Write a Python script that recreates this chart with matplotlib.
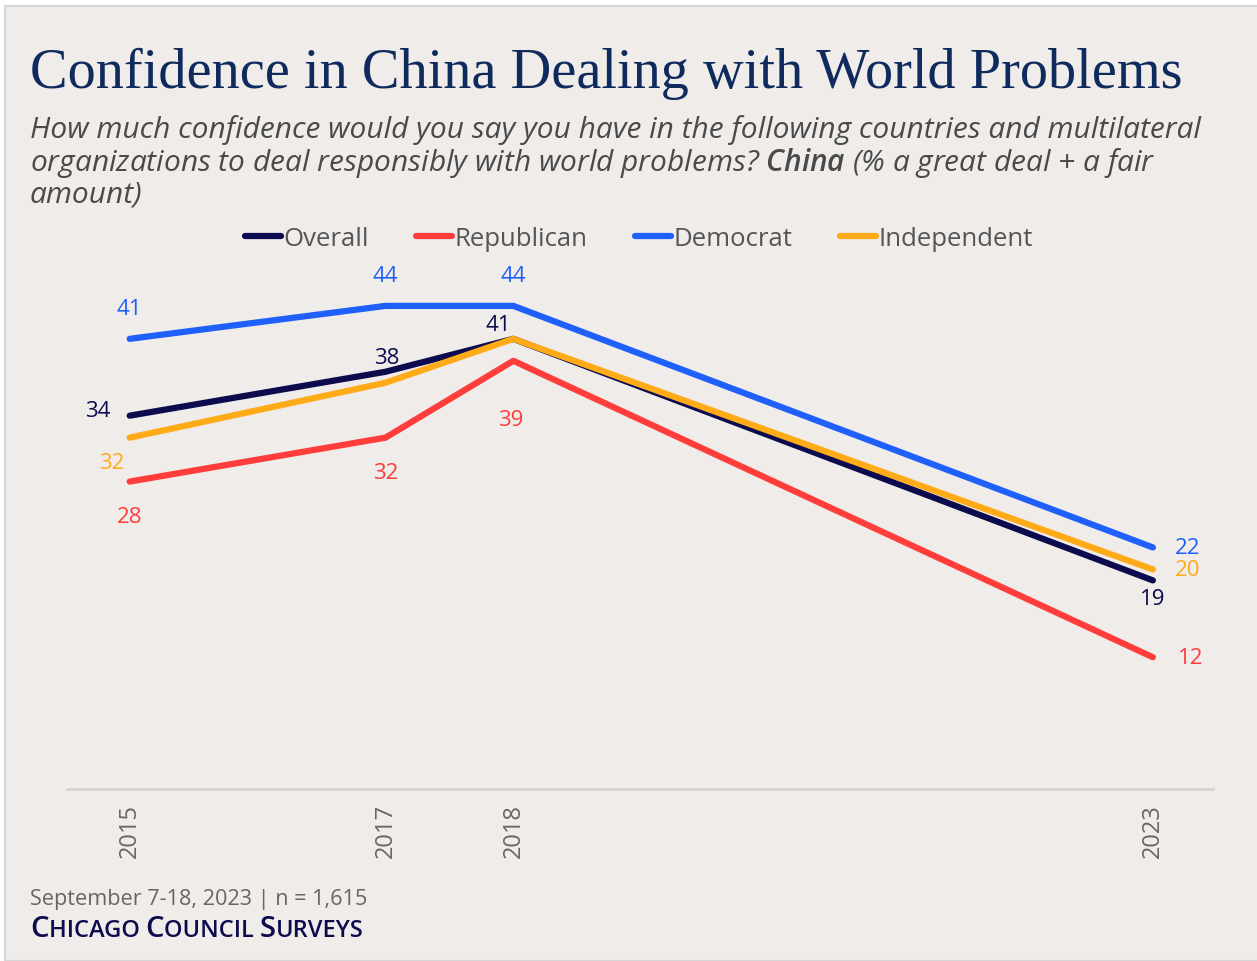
import matplotlib
matplotlib.use("Agg")
import matplotlib.pyplot as plt
from matplotlib.patches import Rectangle

# data
years = [2015, 2017, 2018, 2023]
overall = [34, 38, 41, 19]
republican = [28, 32, 39, 12]
democrat = [41, 44, 44, 22]
independent = [32, 37, 41, 20]

series_names = ["Overall", "Republican", "Democrat", "Independent"]
colors = ["#0b0b4d", "#ff3d3a", "#1f5ffa", "#ffaa17"]

W, H = 1257, 962
bg = "#efecea"
plt.rcParams["font.family"] = ["Open Sans", "DejaVu Sans"]
plt.rcParams["mathtext.fontset"] = "custom"
plt.rcParams["mathtext.bf"] = "Open Sans:italic:semibold"

fig = plt.figure(figsize=(W / 100, H / 100), dpi=100, facecolor="white")
fig.patches.append(Rectangle((5 / W, 0), 1.0, 1 - 7 / H, transform=fig.transFigure,
                             facecolor=bg, edgecolor="#d6d6d6", linewidth=1.5, zorder=-5))

ax = fig.add_axes([67 / W, 1 - 790 / H, (1213 - 67) / W, (790 - 252) / H])
ax.patch.set_alpha(0)

for vals, name, c in zip([overall, republican, democrat, independent], series_names, colors):
    ax.plot(years, vals, color=c, lw=4.5, solid_capstyle="round",
            solid_joinstyle="round", label=name)

ax.set_xlim(2014.51, 2023.47)
ax.set_ylim(0, 49)

lab_size = 16
def lab(vals, i, c, dx, dy, ha="center"):
    ax.annotate(str(vals[i]), (years[i], vals[i]), xytext=(dx, dy),
                textcoords="offset points", ha=ha, va="center",
                color=c, fontsize=lab_size)

# 2015
lab(overall, 0, colors[0], -23, 4)
lab(democrat, 0, colors[2], 0, 22)
lab(independent, 0, colors[3], -13, -18)
lab(republican, 0, colors[1], 0, -25)
# 2017
lab(overall, 1, colors[0], 1, 10)
lab(democrat, 1, colors[2], 0, 22)
lab(republican, 1, colors[1], 0, -25)
# 2018
lab(overall, 2, colors[0], -11, 10)
lab(democrat, 2, colors[2], 0, 22)
lab(republican, 2, colors[1], -2, -42)
# 2023
lab(democrat, 3, colors[2], 16, 0, "left")
lab(independent, 3, colors[3], 16, 0, "left")
lab(overall, 3, colors[0], 0, -13)
lab(republican, 3, colors[1], 18, 0, "left")

for s in ["top", "right", "left"]:
    ax.spines[s].set_visible(False)
ax.spines["bottom"].set_color("#d4d4d4")
ax.spines["bottom"].set_linewidth(2)
ax.set_yticks([])
ax.set_xticks(years)
ax.set_xticklabels([str(y) for y in years], rotation=90, color="#666666", fontsize=17)
ax.tick_params(axis="x", length=0, pad=10)

leg = ax.legend(loc="center", bbox_to_anchor=(639 / W, 1 - 239 / H), bbox_transform=fig.transFigure,
                ncol=4, frameon=False, fontsize=18.5, handlelength=1.4, handletextpad=0.1,
                columnspacing=1.85, labelcolor="#555555")
for h in leg.get_lines():
    h.set_linewidth(4.5)
    h.set_solid_capstyle("round")

# title and subtitle
fig.text(30 / W, 1 - 88 / H, "Confidence in China Dealing with World Problems",
         family=["Liberation Serif", "DejaVu Serif"], fontsize=40.6, color="#0f2a5c", va="baseline")
fig.text(30 / W, 1 - 115 / H,
         "How much confidence would you say you have in the following countries and multilateral\n"
         "organizations to deal responsibly with world problems? $\\bf{China}$ (% a great deal + a fair\n"
         "amount)", fontsize=21.5, style="italic", color="#4a4a4a", va="top",
         linespacing=1.03)

# footer
fig.text(30 / W, 1 - 905 / H, "September 7-18, 2023 | n = 1,615", fontsize=15.6,
         color="#666666", va="baseline")

fig.canvas.draw()
rend = fig.canvas.get_renderer()
x = 30
pieces = [("C", 21), ("HICAGO ", 17), ("C", 21), ("OUNCIL ", 17), ("S", 21), ("URVEYS", 17)]
for txt, sz in pieces:
    t = fig.text(x / W, 1 - 937 / H, txt, fontsize=sz, color="#0b0b4d",
                 weight="semibold", va="baseline")
    bb = t.get_window_extent(rend)
    x = bb.x1

fig.savefig("out.png", dpi=100, facecolor=fig.get_facecolor())
